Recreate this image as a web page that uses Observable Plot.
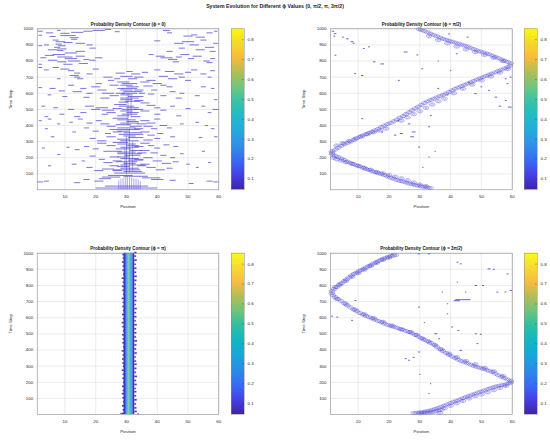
<!DOCTYPE html>
<html><head><meta charset="utf-8">
<script src="https://cdn.jsdelivr.net/npm/d3@7"></script>
<script src="https://cdn.jsdelivr.net/npm/@observablehq/plot@0.6"></script>
<style>
body{margin:0;background:#fff;font-family:"Liberation Sans",Arial,sans-serif}
#root{position:relative;width:550px;height:440px;overflow:hidden;background:#fff}
#title{position:absolute;left:0;width:550px;top:2px;text-align:center;font-weight:bold;font-size:5.2px;line-height:8px;color:#222}
#root svg{position:absolute}
</style></head><body>
<div id="root"><div id="title">System Evolution for Different ϕ Values (0, π/2, π, 3π/2)</div></div>
<script>
// ---------- axes / tick labels ----------
const xTicks = [10, 20, 30, 40, 50, 60];
const yTicks = [100, 200, 300, 400, 500, 600, 700, 800, 900, 1000];
const cbTicks = [0.1, 0.2, 0.3, 0.4, 0.5, 0.6, 0.7, 0.8];
const cbRange = [0.045, 0.855];
const parula = ["#3e26a8","#4741e5","#3a6cf4","#2b8de6","#1aa5da","#12b6c4","#2dbfa4","#6ec37c","#b0be58","#f8ba3c","#f6d82a","#f9fb0e"];
const titles = ["Probability Density Contour (ϕ = 0)","Probability Density Contour (ϕ = π/2)","Probability Density Contour (ϕ = π)","Probability Density Contour (ϕ = 3π/2)"];

// ---------- ϕ = 0 : short contour dashes [position, time, half-length] ----------
const phi0Dashes = [
[2,985,0.8],[5,975,1.2],[8,990,0.6],[10,972,1.5],[14,978,2],[17.5,985,1.5],[21,990,2],[24,996,1],[27,982,0.8],[43,990,1.2],[44,975,0.8],[50,955,1.5],[52,962,1],[54,948,1.5],[57,975,1],[59,985,0.6],[2,960,0.6],[6,952,1],[11,958,2.5],[13,945,1.5],
[7,930,1],[8.5,920,1.5],[8,905,1],[9,895,1.2],[7.5,885,1],[9,875,1.5],[8.5,865,1],[11,915,1.5],[13,935,1],[15,910,1.5],[18,900,1],[6,870,1.5],[12,850,2],[15,860,1.5],[19,880,1],[4,900,0.8],[2,895,0.6],
[40,925,1],[47,910,1.5],[50,920,2],[52,900,1.5],[55,930,1],[57,885,1.5],[59,910,0.8],[54,870,1.5],[48,880,1],[44,860,1],[58,860,1],
[3,820,1],[5,835,1.5],[8,840,2],[10,825,2.5],[12,815,2],[15,830,1.5],[17,810,1],[6,805,1.5],[9,795,1.5],[13,800,2],[19,805,1],[21,820,1.2],[2,780,0.6],[11,780,1.5],[16,785,1.5],
[41,830,1.5],[43,820,2],[45,810,1.5],[47,825,1],[49,840,1.5],[51,815,1],[53,830,1.5],[56,800,1],[58,815,0.8],[46,795,1],[38,840,0.8],[57,790,1],
[2,760,0.6],[4,745,0.8],[7,760,1],[10,750,1.5],[12,740,1],[14,725,1],[13,710,1.5],[14,700,1],[15,690,1],[8,690,0.6],[18,720,1],[20,750,1],[24,700,1.5],[25,680,1],
[28,725,1.5],[31,735,1],[33,720,1.5],[36,730,1],[30,705,2],[34,700,1.5],[27,690,1],[32,690,1.5],
[40,745,1],[44,735,1.5],[47,720,1.5],[50,730,1],[52,745,1],[55,720,1],[58,740,0.8],[42,705,1.5],[45,690,1.5],[48,700,1],[50,680,1],[57,700,0.6],[38,680,1.5],[36,670,1.5],
[2,635,0.6],[6,630,1],[9,615,1],[12,650,1],[14,610,1.5],[16,630,1],[18,600,1],[20,640,1.5],[21,660,1],[22,620,1.5],[24,600,2],[26,585,1.5],[26,650,1.5],[23,570,1.5],[5,590,0.6],[10,580,0.8],[17,575,1],
[29,670,2],[31,660,2.5],[30,650,2],[32,640,2],[31,630,2.5],[30,620,2],[32,610,3],[31,600,2.5],[30,590,2],[33,580,2.5],[31,570,3],[30,560,2],[32,550,2.5],[29,545,1.5],[34,555,1.5],[28,600,1.5],[34,620,1.5],[35,600,1],[28,630,1],
[37,645,1.5],[40,660,1.5],[42,650,1],[44,640,1],[39,620,1],[45,610,1],[48,600,0.8],[38,595,1],[55,640,0.8],[58,630,0.6],[53,585,0.8],[47,570,1],[42,585,1],[59,560,0.6],
[3,520,0.6],[7,510,0.8],[12,500,1],[18,520,1.5],[20,500,1.5],[22,510,2],[24,495,2],[25,480,1.5],[23,470,1],[16,480,1],[9,470,0.8],[4,455,0.6],[14,455,1],
[28,530,2],[30,520,2.5],[32,510,2],[31,500,2.5],[30,490,2],[32,480,2],[31,470,2.5],[29,460,2],[33,455,1.5],[34,500,1.5],[27,505,1.5],
[36,540,1.5],[38,525,1.5],[40,510,1],[36,490,1.5],[42,495,1],[45,520,0.8],[50,505,0.8],[55,520,0.6],[59,500,1],[57,480,0.6],[40,470,1],[47,460,0.8],
[2,430,0.5],[5,440,0.6],[8,410,0.5],[12,420,0.6],[15,440,0.8],[18,415,1],[21,430,1],[23,410,1.5],[25,395,1.5],[4,380,0.5],[13,360,0.6],[17,385,0.8],[20,365,1],[24,350,1],[26,375,1.5],[6,330,0.6],[19,320,1],[22,305,1.5],[25,330,1.5],
[28,445,2.5],[30,435,3],[32,425,2],[31,415,3],[29,405,2.5],[33,395,2],[30,385,3],[31,375,3.5],[29,365,2],[32,355,3],[30,345,2.5],[31,335,2],[33,325,2.5],[29,315,2],[31,305,3],[34,345,1.5],[34,380,1.5],[27,360,1.5],[35,410,1.5],
[36,430,1.5],[38,415,1.5],[40,440,1],[37,395,1.5],[39,380,1],[42,400,1.2],[44,385,0.8],[48,410,0.6],[53,420,0.6],[56,400,0.5],[58,380,0.6],[36,360,1.5],[38,340,1.2],[41,350,1],[45,330,0.8],[54,325,0.6],[59,330,0.6],[37,310,1.5],[40,320,1],
[3,260,0.5],[11,265,0.5],[14,250,0.8],[17,270,0.8],[20,255,1],[22,290,1.5],[24,240,1.5],[25,275,1.5],[8,220,0.5],[16,180,0.6],[19,210,1],[22,190,1],[24,170,1.5],[26,205,1.5],[5,150,0.5],[13,160,0.8],[18,140,1],[21,120,1.5],[24,130,2],[26,150,1.5],
[28,295,2.5],[30,285,3],[32,275,2],[31,265,3],[29,255,2.5],[33,245,2],[30,235,3],[31,225,4],[32,215,2.5],[29,205,2],[31,195,3],[33,185,2.5],[30,175,3.5],[31,165,2],[32,155,4],[29,145,2],[31,135,3],[30,125,4.5],[32,115,3],[31,105,5],[34,270,1.5],[35,230,1.5],[34,190,1.5],[27,240,1.5],[27,180,1.5],[35,150,1.5],[27,120,1.5],
[36,290,1.5],[38,275,1],[40,260,1],[43,280,1],[46,270,0.8],[36,245,1.5],[39,230,1.2],[42,215,1],[45,200,0.8],[48,225,0.6],[55,240,0.5],[37,200,1.5],[40,180,1.5],[43,165,1.5],[46,175,1],[50,160,0.6],[36,160,1.5],[38,140,1.5],[41,125,1.5],[44,135,1],[53,140,0.5],[57,170,0.5],
[30,12,10],[30,24,7],[28,90,4],[33,85,4],[25,80,3],[38,75,3],[23,70,2],[40,65,2],[21,55,1.5],[2,50,1],[4,55,0.8],[57,55,1],[59,50,0.8],[45,60,1],[14,45,1],[17,65,1],[51,40,0.8]
];
// ϕ = 0 : vertical contour strokes [position, time from, time to]
const phi0Vert = [
[27.5,4,60],[28.2,4,70],[28.9,4,75],[29.6,4,80],[30.3,4,85],[31,4,80],[31.7,4,78],[32.4,4,72],[33.1,4,70],[33.8,4,65],[34.5,4,55],
[30,100,330],[31,110,380],[32,120,300],[29.5,140,260],[30.5,400,600],[31.5,450,580]
];

// ---------- ϕ = π/2 : ring centres [position, time] ----------
const halfA = [[33.5,12],[32.5,15],[31.5,18],[30.5,22],[29.5,26],[28.5,30],[27.5,36],[26.5,40],[25.5,46],[24.5,52],[23.5,56],[22.5,62],[21.5,70],[20.5,76],[19.5,84],[18.5,92],[17.5,98],[16.5,104],[15.5,110],[14.5,116],[13.5,124],[12.5,130],[11.5,138],[10.5,146],[9.5,152],[8.5,160],[7.5,168],[6.5,176],[5.5,186],[4.5,195],[3.5,204],[2.5,212],[1.6,220],[1.5,230]];
const halfB = [[1.5,240],[2.5,250],[3.5,262],[4.5,274],[5.5,284],[6.5,292],[7.5,300],[8.5,310],[9.5,320],[10.5,330],[11.5,338],[12.5,346],[13.5,354],[14.5,362],[15.5,370],[16.5,380],[17.5,390],[18.5,400],[19.5,408],[20.5,416],[21.5,426],[22.5,436],[23.5,448],[24.5,458],[25.5,470],[26.5,482],[27.5,494],[28.5,506],[29.5,516],[30.5,528],[31.5,540],[32.5,550],[33.5,558],[34.5,566],[35.5,574],[36.5,582],[37.5,590],[38.5,598],[39.5,608],[40.5,618],[41.5,628],[42.5,636],[43.5,644],[44.5,652],[45.5,660],[46.5,668],[47.5,676],[48.5,684],[49.5,692],[50.5,700],[51.5,708],[52.5,716],[53.5,722],[54.5,730],[55.5,738],[56.5,746],[57.5,754],[58.5,762],[59.3,772]];
const halfC = [[59.5,785],[58.5,795],[57.5,802],[56.5,810],[55.5,818],[54.5,826],[53.5,834],[52.5,842],[51.5,848],[50.5,854],[49.5,860],[48.5,866],[47.5,874],[46.5,882],[45.5,890],[44.5,896],[43.5,902],[42.5,908],[41.5,914],[40.5,920],[39.5,926],[38.5,932],[37.5,938],[36.5,946],[35.5,954],[34.5,962],[33.5,970],[32.5,978],[31.5,986],[30.5,992],[29.8,998]];
const halfExtra = [[2,200],[3,190],[4.5,182],[6,172],[8,162],[10,150],[12,138],[14,126],[16,112],[18,104],[20,92],[22,82],[24,72],[26,60],[28,46],[30,34],[32,24],[3,276],[5,290],[7,304],[9,318],[11,332],[13,346],[15,358],[17,368],[19,380],[24,430],[26,450],[28,470],[30,488],[32,510],[34,530],[36,550],[38,566],[41,600],[44,628],[47,654],[50,680],[53,704],[56,728],[58.5,750],[57,800],[54,820],[51,838],[48,856],[45,872],[42,890],[39,910],[36,930],[33,955]];
const halfSpecks = [[1.8,985,0.4],[2.5,970,0.4],[2.2,955,0.3],[5,948,0.3],[6.5,938,0.4],[8,920,0.5],[8.5,910,0.3],[11.8,878,0.3],[13.5,888,0.3],[15.2,795,0.4],[17.8,782,0.6],[9,722,0.3],[11.3,710,0.4],[2.6,836,0.3],[25.4,856,0.6],[29.2,838,0.3],[30.8,752,0.3],[23.2,680,0.3],[11.3,442,0.3],[26.5,410,0.4],[28,360,0.6],[33,392,0.3],[33.6,462,0.3],[27.5,330,0.6],[17.8,360,0.3],[29.7,266,0.3],[33,204,0.2],[31,140,0.2],[48.1,598,0.4],[52.5,618,0.3],[54.7,576,0.4],[57.9,555,0.3],[59.2,514,0.6],[58.5,660,0.3],[50,640,0.3],[46,668,0.3],[45.5,948,0.3],[39.5,968,0.3],[42,845,0.3],[57.9,690,0.3],[40,740,0.2],[36,800,0.2],[23,430,0.3],[35,240,0.2],[56,520,0.4],[59.5,700,0.3],[24,350,0.5],[22,340,0.4],[39,590,0.3],[36,630,0.3]];

// ---------- ϕ = π : stationary band [x from, x to, density] ----------
const piBandX1 = [29.2, 29.7, 30.1, 30.5, 30.8, 31.1, 31.4, 31.8, 32.2];
const piBandX2 = [29.7, 30.1, 30.5, 30.8, 31.1, 31.4, 31.8, 32.2, 32.7];
const piBandV  = [0.07, 0.18, 0.30, 0.42, 0.56, 0.42, 0.30, 0.18, 0.07];
// jagged edge dashes [time, left overhang, right overhang]
const piEdge = [[8,0.6,0.5],[30,0.3,0.4],[55,0.5,0.2],[80,0.2,0.5],[105,0.4,0.3],[130,0.6,0.4],[150,0.3,0.2],[175,0.5,0.5],[200,0.2,0.3],[225,0.4,0.6],[250,0.3,0.2],[275,0.6,0.4],[300,0.2,0.5],[320,0.4,0.3],[345,0.5,0.2],[370,0.3,0.5],[395,0.6,0.3],[420,0.2,0.4],[445,0.4,0.6],[470,0.3,0.2],[495,0.5,0.4],[520,0.2,0.3],[545,0.4,0.5],[570,0.6,0.2],[595,0.3,0.4],[620,0.5,0.3],[645,0.2,0.5],[670,0.4,0.2],[695,0.3,0.4],[720,0.6,0.3],[745,0.2,0.5],[770,0.4,0.3],[795,0.5,0.2],[820,0.3,0.4],[845,0.6,0.5],[870,0.2,0.3],[895,0.4,0.4],[920,0.3,0.2],[945,0.5,0.5],[970,0.3,0.3],[992,0.4,0.4]];
const piSpecks = [[28.2,8,0.3],[33.8,6,0.3]];

// ---------- ϕ = 3π/2 : ring centres [position, time] ----------
const threeA = [[28,10],[29,12],[30,14],[31,17],[32,20],[33,24],[34,30],[35,36],[36,42],[37,50],[38,56],[39,64],[40,72],[41,80],[42,86],[43,94],[44,102],[45,110],[46,116],[47,124],[48,130],[49,138],[50,144],[51,150],[52,158],[53,164],[54,170],[55,176],[56,180],[57,184],[58,188],[59,194],[59.6,200]];
const threeB = [[59.5,210],[58.5,218],[57.5,226],[56.5,234],[55.5,244],[54.5,254],[53.5,264],[52.5,272],[51.5,278],[50.5,284],[49.5,290],[48.5,296],[47.5,302],[46.5,310],[45.5,318],[44.5,324],[43.5,332],[42.5,340],[41.5,350],[40.5,360],[39.5,370],[38.5,382],[37.5,394],[36.5,406],[35.5,420],[34.5,434],[33.5,444],[32.5,454],[31.5,464],[30.5,474],[29.5,484],[28.5,494],[27.5,504],[26.5,512],[25.5,518],[24.5,526],[23.5,532],[22.5,538],[21.5,544],[20.5,550],[19.5,556],[18.5,564],[17.5,572],[16.5,580],[15.5,588],[14.5,596],[13.5,604],[12.5,612],[11.5,620],[10.5,630],[9.5,640],[8.5,652],[7.5,664],[6.5,676],[5.5,690],[4.5,704],[3.5,716],[2.5,728],[1.8,740],[1.4,752]];
const threeC = [[1.5,765],[2.2,778],[3,790],[3.8,802],[4.6,814],[5.4,826],[6.2,838],[7,850],[7.8,862],[8.6,872],[9.4,880],[10.2,888],[11,896],[11.8,904],[12.6,912],[13.4,920],[14.2,928],[15,936],[15.8,944],[16.6,952],[17.4,960],[18.2,966],[19,972],[19.8,978],[20.6,982],[21.4,986],[22.2,988]];
const threeExtra = [[30,8],[31,10],[32,12],[33,14],[34,16],[35,20],[36,26],[37,30],[36.5,12],[38,40],[40,55],[42,70],[44,85],[46,100],[48,115],[50,125],[52,138],[54,152],[56,165],[58,178],[57,240],[54,268],[51,290],[48,312],[45,332],[42,356],[39.5,378],[37,404],[35,430],[33,452],[31,470],[29,494],[27,512],[24,528],[21,552],[18,575],[15,598],[12,622],[9,650],[6,684],[3,718],[2.5,790],[4,808],[6,830],[8,854],[10,876],[12,898],[14,920],[16,940],[18,958],[20,972]];
const threeSpecks = [[29.7,996,0.4],[33,996,0.4],[42.2,944,0.3],[43.3,934,0.3],[52.5,903,0.5],[54,900,0.3],[58.5,872,0.3],[42.2,821,0.2],[48.2,800,0.4],[50.5,800,0.3],[55.2,759,0.3],[57.8,760,0.3],[59.6,769,0.4],[44.9,759,0.2],[37.3,759,0.2],[39,687,0.2],[29.7,666,0.3],[39,625,0.2],[35.2,501,0.5],[36.3,470,0.3],[40.5,543,0.3],[42.5,522,0.3],[43.3,398,0.4],[48.2,501,0.3],[49.8,498,0.3],[48.7,440,0.3],[25.4,347,0.3],[26.5,337,0.3],[28,355,0.3],[29.7,388,0.3],[33.5,192,0.2],[33,131,0.2],[9.1,707,0.3],[3.2,604,0.3],[8,584,0.3],[1.5,610,0.3],[31.5,570,0.2],[30,250,0.2],[21,995,0.3],[44,712,2.5],[42,706,1]];

// ---------- drawing ----------
const root = document.getElementById("root");
const font = '"Liberation Sans", Arial, sans-serif';
const colorOpts = {type: "linear", domain: parula.map((c, i) => cbRange[0] + i * (cbRange[1] - cbRange[0]) / (parula.length - 1)), range: parula, clamp: true};
const ellipse = {draw(ctx, size) {
  const r = Math.sqrt(size / Math.PI), rx = r * 1.4, ry = r * 0.75, k = 0.5523, kx = k * rx, ky = k * ry;
  ctx.moveTo(rx, 0);
  ctx.bezierCurveTo(rx, ky, kx, ry, 0, ry);
  ctx.bezierCurveTo(-kx, ry, -rx, ky, -rx, 0);
  ctx.bezierCurveTo(-rx, -ky, -kx, -ry, 0, -ry);
  ctx.bezierCurveTo(kx, -ry, rx, -ky, rx, 0);
  ctx.closePath();
}};
const LOW = 0.09, MID = 0.14;

function dashes(data, v, sw) {
  return Plot.link(data, {x1: d => d[0] - d[2], x2: d => d[0] + d[2], y1: d => d[1], y2: d => d[1], stroke: () => v, strokeWidth: sw});
}
function rings(data, v) {
  return [
    Plot.dot(data, {x: d => d[0], y: d => d[1], r: 2.1, symbol: ellipse, fill: "none", stroke: () => v, strokeWidth: 0.45, strokeOpacity: 0.85}),
    Plot.dot(data, {x: d => d[0], y: d => d[1], r: 1.0, symbol: ellipse, fill: "none", stroke: () => MID, strokeWidth: 0.4, strokeOpacity: 0.85})
  ];
}

function panel(left, top, mt, mb, ml, mr, title, marks) {
  const svg = Plot.plot({
    width: 275, height: 220, marginTop: mt, marginBottom: mb, marginLeft: ml, marginRight: mr,
    x: {domain: [1, 60]}, y: {domain: [1, 1000]}, color: colorOpts,
    style: {fontFamily: font, fontSize: "4.4px", background: "transparent", color: "#262626", overflow: "visible"},
    marks: [
      Plot.gridX(xTicks, {stroke: "#d9d9d9", strokeOpacity: 1, strokeWidth: 0.5}),
      Plot.gridY(yTicks, {stroke: "#d9d9d9", strokeOpacity: 1, strokeWidth: 0.5}),
      ...marks,
      Plot.frame({stroke: "#8a8a8a", strokeWidth: 0.6}),
      Plot.axisX(xTicks, {tickSize: 0, tickPadding: 5, label: null, fontSize: 4.4, tickFormat: d => String(d)}),
      Plot.axisY(yTicks, {tickSize: 0, tickPadding: 4, label: null, fontSize: 4.4, tickFormat: d => String(d)}),
      Plot.text([title], {frameAnchor: "top", dy: -3, lineAnchor: "bottom", fontWeight: "bold", fontSize: 4.5, fill: "#111"}),
      Plot.text(["Position"], {frameAnchor: "bottom", dy: 18, fontSize: 4.4}),
      Plot.text(["Time Step"], {frameAnchor: "left", dx: -26.7, rotate: -90, fontSize: 4.4})
    ]
  });
  svg.style.left = left + "px"; svg.style.top = top + "px";
  root.appendChild(svg);
}

const levels = d3.range(cbRange[0], cbRange[1], 0.005);
function colorbar(left, top, mt, mb) {
  const svg = Plot.plot({
    width: 40, height: 220, marginLeft: 6, marginRight: 21, marginTop: mt, marginBottom: mb,
    x: {domain: [0, 1], axis: null}, y: {domain: cbRange}, color: colorOpts,
    style: {fontFamily: font, fontSize: "4.4px", background: "transparent", color: "#262626", overflow: "visible"},
    marks: [
      Plot.rect(levels, {x1: 0, x2: 1, y1: d => d, y2: d => Math.min(d + 0.0075, cbRange[1]), fill: d => d + 0.0025}),
      Plot.ruleY(cbTicks, {x1: 0.85, x2: 1, stroke: "#444", strokeWidth: 0.4}),
      Plot.frame({stroke: "#8a8a8a", strokeWidth: 0.5}),
      Plot.axisY(cbTicks, {anchor: "right", tickSize: 0, tickPadding: 3, tickFormat: d3.format(".1f"), label: null, fontSize: 4.4})
    ]
  });
  svg.style.left = left + "px"; svg.style.top = top + "px";
  root.appendChild(svg);
}

// ϕ = 0
panel(0, 0, 28.3, 30.7, 36.7, 56.7, titles[0], [
  Plot.link(phi0Vert, {x1: d => d[0], x2: d => d[0], y1: d => d[1], y2: d => d[2], stroke: () => LOW, strokeWidth: 0.5, strokeOpacity: 0.85}),
  dashes(phi0Dashes, LOW, 0.7)
]);
colorbar(225, 0, 28.3, 30.7);

// ϕ = π/2
panel(275, 0, 28.3, 30.7, 55, 38.3, titles[1], [
  ...rings(halfExtra, LOW),
  ...rings(halfA, LOW), ...rings(halfB, LOW), ...rings(halfC, LOW),
  dashes(halfSpecks, LOW, 0.8)
]);
colorbar(518.3, 0, 28.3, 30.7);

// ϕ = π
panel(0, 220, 32.7, 26, 36.7, 56.7, titles[2], [
  Plot.rect(piBandV, {x1: (d, i) => piBandX1[i], x2: (d, i) => piBandX2[i], y1: 1, y2: 1000, fill: d => d}),
  dashes(piEdge.map(e => [29.2 - e[1] / 2, e[0], e[1] / 2 + 0.15]), LOW, 1.6),
  dashes(piEdge.map(e => [32.7 + e[2] / 2, e[0] + 12, e[2] / 2 + 0.15]), LOW, 1.6),
  dashes(piSpecks, LOW, 0.8)
]);
colorbar(225, 220, 32.7, 26);

// ϕ = 3π/2
panel(275, 220, 32.7, 26, 55, 38.3, titles[3], [
  ...rings(threeExtra, LOW),
  ...rings(threeA, LOW), ...rings(threeB, LOW), ...rings(threeC, LOW),
  dashes(threeSpecks, LOW, 0.8)
]);
colorbar(518.3, 220, 32.7, 26);
</script>
</body></html>
